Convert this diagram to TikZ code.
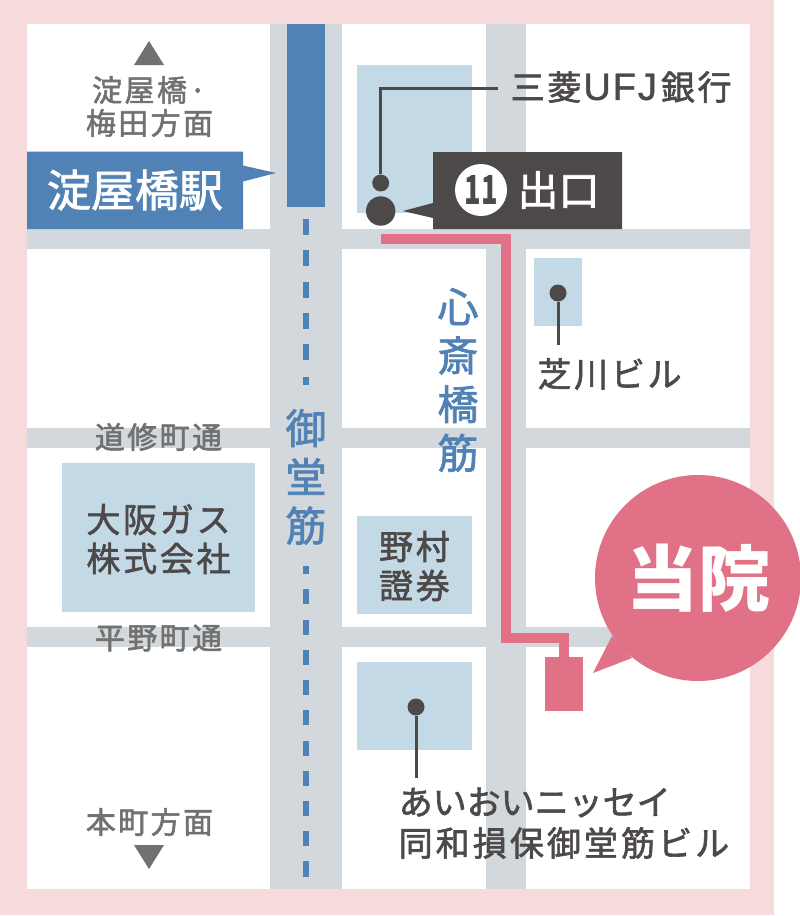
\documentclass[tikz,border=0pt]{standalone}
\usepackage{fontspec}
\setmainfont{Noto Sans CJK JP}
\newfontfamily\jpfont[FakeBold=1.8]{Noto Sans CJK JP}
\newfontfamily\jpbold{Noto Sans CJK JP}
\newfontfamily\jpspaced[LetterSpace=8,FakeBold=1.8]{Noto Sans CJK JP}
\newfontfamily\jpzero[LetterSpace=0,FakeBold=1.8]{Noto Sans CJK JP}
\newfontfamily\jpwide[LetterSpace=9,FakeBold=1.8]{Noto Sans CJK JP}
\newfontfamily\jplatin[LetterSpace=5,FakeBold=1.2]{Liberation Sans}
\definecolor{pinkbg}{HTML}{F6DADC}
\definecolor{road}{HTML}{D2D8DB}
\definecolor{bldg}{HTML}{C3DAE6}
\definecolor{stn}{HTML}{5182B5}
\definecolor{route}{HTML}{E17186}
\definecolor{ink}{HTML}{4C4948}
\definecolor{graytxt}{HTML}{717171}
\tikzset{
  x=1pt,y=-1pt,
  roadfill/.style={fill=road,draw=none},
  bldgfill/.style={fill=bldg,draw=none},
  grayt/.style={inner sep=0pt,text=graytxt,align=center,font=\fontsize{30}{32.5}\selectfont\jpspaced},
  inkt/.style={inner sep=0pt,text=ink,align=center,font=\fontsize{34}{39}\selectfont\jpspaced},
  inkleft/.style={inner sep=0pt,text=ink,anchor=west,font=\fontsize{34}{41}\selectfont\jpwide},
  bluev/.style={inner sep=0pt,text=stn,align=center,font=\fontsize{41}{48.7}\selectfont\jpfont},
  pindot/.style={circle,fill=ink,draw=none,inner sep=0pt,minimum size=17pt},
  pinline/.style={draw=ink,line width=3pt},
  subdash/.style={fill=stn,draw=none},
  triang/.style={fill=graytxt,draw=none},
}
\begin{document}
\begin{tikzpicture}
\useasboundingbox (0,0) rectangle (800,916);
% frame
\fill[white] (0,0) rectangle (800,916);
\fill[pinkbg] (0,0) rectangle (774,915);
\fill[white] (27,24) rectangle (750,889);
% roads
\path[roadfill] (270,24) rectangle (342,889);
\path[roadfill] (486,24) rectangle (526,889);
\path[roadfill] (27,229) rectangle (750,249);
\path[roadfill] (27,428) rectangle (750,448);
\path[roadfill] (27,627) rectangle (750,647);
% buildings
\path[bldgfill] (357,65) rectangle (472,213);
\path[bldgfill] (534,258) rectangle (582,326);
\path[bldgfill] (62,463) rectangle (255,612);
\path[bldgfill] (357,516) rectangle (472,614);
\path[bldgfill] (357,662) rectangle (472,750);
% subway line
\fill[stn] (287,24) rectangle (325,207);
\foreach \a/\b in {219/235,250/266,282/298,313/329,344/360,377/385,566/574,589/604,620/635,650/665,680/695,710/725,741/756,771/786,801/816,831/846,861/877}
  \path[subdash] (303,\a) rectangle (309,\b);
% route
\coordinate (rstart) at (381,239);
\coordinate (rc1) at (506,239);
\coordinate (rc2) at (506,638);
\coordinate (rc3) at (564,638);
\node[fill=route,inner sep=0pt,minimum width=37.5pt,minimum height=54pt] (clinic) at (563.75,684) {};
\draw[route,line width=10pt,line join=miter] (rstart) -- (rc1) -- (rc2) -- (rc3) -- (rc3 |- clinic.north);
% bubble
\node[circle,fill=route,inner sep=0pt,minimum size=206pt] (bubble) at (698,578) {};
\coordinate (btip) at (593,673);
\coordinate (bb1) at (612,636);
\coordinate (bb2) at (632,658);
\fill[route] (btip) -- (bb1) -- (bb2) -- cycle;
\node[inner sep=0pt,text=white,font=\fontsize{72}{72}\selectfont\jpbold\bfseries] (clinicname) at (698,578) {当院};
% station label
\fill[stn] (27,151.5) -- (243,151.5) -- (243,165.5) -- (276,173) -- (243,181.5) -- (243,229) -- (27,229) -- cycle;
\node[inner sep=0pt,text=white,font=\fontsize{44}{44}\selectfont\jpfont] (station) at (135,190) {淀屋橋駅};
% pins
\node[pindot] (mdot) at (380.7,183) {};
\node[circle,fill=ink,inner sep=0pt,minimum size=29.4pt] (exitdot) at (380.7,211) {};
\coordinate (mend) at (498,88);
\coordinate (mcorner) at (380.7,88);
\draw[pinline] (mend) -- (mcorner) -- (mdot);
\node[pindot] (sdot) at (558,293) {};
\coordinate (send) at (558,345);
\draw[pinline] (sdot) -- (send);
\node[pindot] (adot) at (416,707) {};
\coordinate (aend) at (416,778);
\draw[pinline] (adot) -- (aend);
% exit label
\fill[ink] (403,211) -- (433,203) -- (433,152) -- (622,152) -- (622,229) -- (433,229) -- (433,218) -- cycle;
\node[circle,fill=white,inner sep=0pt,minimum size=52pt,text=ink,font=\fontsize{40}{40}\selectfont\jpbold\bfseries] (exitno) at (481,190) {\scalebox{.68}[1]{11}};
\node[inner sep=0pt,text=white,font=\fontsize{41}{41}\selectfont\jpfont] (exitname) at (558.5,190) {出口};
% direction marks
\fill[triang] (149,41) -- (164,65) -- (134,65) -- cycle;
\fill[triang] (149,869) -- (164,845) -- (134,845) -- cycle;
% texts
\node[grayt,anchor=west] (n1a) at (92,90) {淀屋橋·};
\node[grayt] (n1b) at (149.5,123) {梅田方面};
\node[grayt] (n2) at (149.5,822) {本町方面};
\node[grayt] (n3) at (158.5,437) {道修町通};
\node[grayt] (n4) at (158.5,638) {平野町通};
\node[inkt,anchor=west] (mufg) at (510.5,87) {三菱\hspace{2pt}{\jplatin\fontsize{38}{39}\selectfont UFJ}\hspace{4pt}銀行};
\node[inkt] (shiba) at (609.5,374) {芝川ビル};
\node[inkt] (gas) at (158.5,539) {大阪ガス\\株式会社};
\node[inkt] (nomura) at (414.5,566) {野村\\證券};
\node[inkleft] (aioi1) at (398.5,802.5) {\jpzero あいおいニッセイ};
\node[inkleft] (aioi2) at (398.5,843) {同和損保御堂筋ビル};
\node[bluev] (shinsai) at (458,380) {心\\斎\\橋\\筋};
\node[bluev] (mido) at (306,477) {御\\堂\\筋};
\end{tikzpicture}
\end{document}
